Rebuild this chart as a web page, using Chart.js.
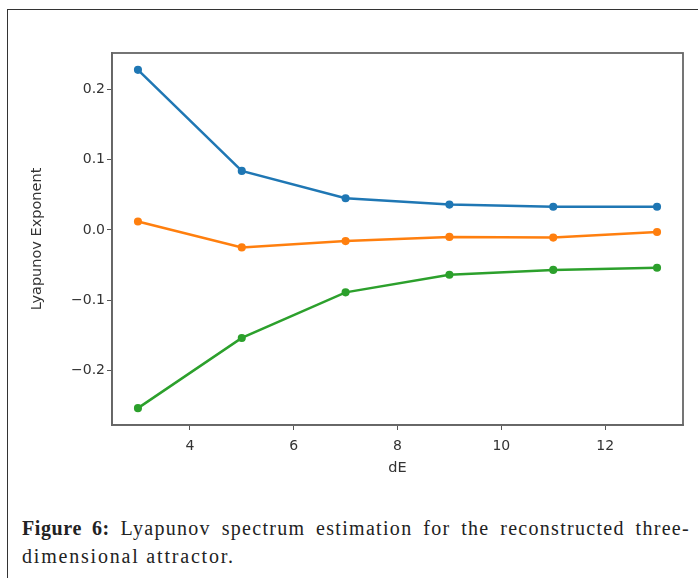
<!DOCTYPE html>
<html>
<head>
<meta charset="utf-8">
<script src="https://cdn.jsdelivr.net/npm/chart.js@4"></script>
<style>
  body { margin: 0; background: #fff; width: 698px; height: 578px; overflow: hidden; position: relative; }
  .frame { position: absolute; left: 7px; top: 9px; width: 720px; height: 600px; border: 1px solid #333; }
  .plot { position: absolute; left: 0; top: 0; width: 698px; height: 500px; }
  .caption {
    position: absolute; left: 22px; top: 514px; width: 668px;
    font-family: "Liberation Serif", serif; font-size: 20px; line-height: 28px;
    letter-spacing: 1.3px; color: #222;
  }
  .caption .l1 { display: block; white-space: nowrap; text-align: justify; text-align-last: justify; }
  .caption .l2 { display: block; white-space: nowrap; letter-spacing: 1.8px; }
  .caption b { font-weight: bold; letter-spacing: 0.6px; }
</style>
</head>
<body>
<div class="frame"></div>
<div class="plot"><canvas id="chart" width="698" height="500"></canvas></div>
<div class="caption"><span class="l1"><b>Figure 6:</b> Lyapunov spectrum estimation for the reconstructed three-</span><span class="l2">dimensional attractor.</span></div>
<script>
// embedding dimension dE
const dims = [3, 5, 7, 9, 11, 13];
// the three exponents
const lambda1 = [0.228, 0.084, 0.045, 0.036, 0.033, 0.033];
const lambda2 = [0.012, -0.025, -0.016, -0.010, -0.011, -0.003];
const lambda3 = [-0.254, -0.154, -0.089, -0.064, -0.057, -0.054];
const xTicks = [4, 6, 8, 10, 12];
const yTicks = [-0.2, -0.1, 0.0, 0.1, 0.2];

const toPoints = vals => dims.map((d, i) => ({ x: d, y: vals[i] }));

const line = (vals, color) => ({
  data: toPoints(vals),
  borderColor: color,
  backgroundColor: color,
  borderWidth: 2.5,
  pointRadius: 2.8,
  pointHoverRadius: 2.8,
  tension: 0
});

// draws the top and right spines like matplotlib
const boxPlugin = {
  id: 'box',
  afterDraw(chart) {
    const { ctx, chartArea: a } = chart;
    ctx.save();
    ctx.strokeStyle = '#666';
    ctx.lineWidth = 1.8;
    ctx.strokeRect(a.left, a.top, a.right - a.left, a.bottom - a.top);
    ctx.restore();
  }
};

const tickFont = { family: 'DejaVu Sans', size: 14 };
const titleFont = { family: 'DejaVu Sans', size: 14.5 };

new Chart(document.getElementById('chart'), {
  type: 'line',
  data: {
    datasets: [
      line(lambda1, '#1f77b4'),
      line(lambda2, '#ff7f0e'),
      line(lambda3, '#2ca02c')
    ]
  },
  options: {
    responsive: false,
    animation: false,
    layout: { padding: { top: 53, right: 15, left: 25, bottom: 23 } },
    plugins: { legend: { display: false }, tooltip: { enabled: false } },
    scales: {
      x: {
        type: 'linear',
        min: 2.5,
        max: 13.5,
        afterBuildTicks: s => { s.ticks = xTicks.map(v => ({ value: v })); },
        afterFit: s => { s.height = 52; },
        grid: { drawOnChartArea: false, drawTicks: true, tickLength: 5, color: '#555' },
        border: { color: '#666', width: 1.8 },
        ticks: { font: tickFont, color: '#333', padding: 8 },
        title: { display: true, text: 'dE', font: titleFont, color: '#333', padding: { top: 0, bottom: 0 } }
      },
      y: {
        min: -0.278,
        max: 0.252,
        afterBuildTicks: s => { s.ticks = yTicks.map(v => ({ value: v })); },
        afterFit: s => { s.width = 87; },
        grid: { drawOnChartArea: false, drawTicks: true, tickLength: 5, color: '#555' },
        border: { color: '#666', width: 1.8 },
        ticks: {
          font: tickFont, color: '#333', padding: 2,
          callback: v => v.toFixed(1).replace('-', '\u2212')
        },
        title: { display: true, text: 'Lyapunov Exponent', font: titleFont, color: '#333', padding: { top: 4, bottom: 0 } }
      }
    }
  },
  plugins: [boxPlugin]
});
</script>
</body>
</html>
